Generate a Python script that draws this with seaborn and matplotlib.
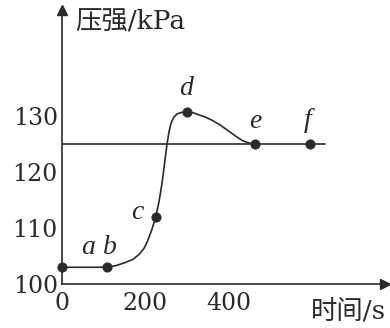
import matplotlib
matplotlib.use("Agg")
import matplotlib.pyplot as plt
import seaborn as sns
import pandas as pd

# curve (time s, pressure kPa)
curve_t = [0, 108, 130, 150, 170, 185, 197, 206, 215, 225, 233, 240, 246, 252, 257, 262, 268, 276, 288, 300,
           315, 330, 345, 362, 380, 395, 410, 423, 434, 445, 455, 463]
curve_p = [103, 103, 103.3, 103.8, 104.4, 105.3, 106.4, 107.8, 109.6, 112, 114.8, 118, 121.5, 125, 127.3, 128.8,
           129.8, 130.4, 130.7, 130.7, 130.6, 130.2, 129.8, 129.2, 128.4, 127.6, 126.8, 126.1, 125.6, 125.3, 125.1, 125]

# reference line
ref_t = [0, 630]
ref_p = [125, 125]

# labelled points
pt_labels = ["a", "b", "c", "d", "e", "f"]
pt_t = [0, 108, 225, 300, 463, 595]
pt_p = [103, 103, 112, 130.7, 125, 125]

x_ticks_major = [0, 200, 400]
x_ticks_minor = [100, 300, 500, 600]
y_ticks_major = [100, 110, 120, 130]
y_ticks_minor = [105, 115, 125]

sns.set_style("white")
plt.rcParams["font.family"] = ["DejaVu Serif", "Noto Sans CJK SC"]

fig = plt.figure(figsize=(3.9, 3.28), dpi=100)
ax = fig.add_axes([0.159, 0.134, 0.828, 0.836])

df_curve = pd.DataFrame({"t": curve_t, "p": curve_p})
df_ref = pd.DataFrame({"t": ref_t, "p": ref_p})
df_pts = pd.DataFrame({"t": pt_t, "p": pt_p, "lab": pt_labels})

ink = "#2a2a2a"
sns.lineplot(data=df_curve, x="t", y="p", ax=ax, color=ink, lw=1.2, sort=False)
sns.lineplot(data=df_ref, x="t", y="p", ax=ax, color=ink, lw=1.2)
sns.scatterplot(data=df_pts, x="t", y="p", ax=ax, color=ink, s=45, edgecolor=ink, zorder=5,
                clip_on=False)

offsets = {"a": (19, 14), "b": (2, 14), "c": (-13, 3), "d": (-1, 17), "e": (0, 16), "f": (-2, 17)}
for lab, t, p in zip(pt_labels, pt_t, pt_p):
    ax.annotate(lab, (t, p), xytext=offsets[lab], textcoords="offset points", ha="center", va="center",
                fontsize=20, style="italic", family="Liberation Serif", color=ink)

ax.set_xlim(0, 775)
ax.set_ylim(100, 149)
ax.set_xticks(x_ticks_major)
ax.set_xticks(x_ticks_minor, minor=True)
ax.set_yticks(y_ticks_major)
ax.set_yticks(y_ticks_minor, minor=True)
ax.tick_params(which="both", direction="in", length=4, width=1, color=ink,
               labelsize=17, labelcolor=ink, pad=3)
ax.tick_params(axis="x", which="major", pad=6)
ax.set_xlabel("")
ax.set_ylabel("")

for s in ["top", "right"]:
    ax.spines[s].set_visible(False)
for s in ["left", "bottom"]:
    ax.spines[s].set_color(ink)
    ax.spines[s].set_linewidth(1.2)

ax.plot(1, 0, ">", color=ink, ms=7, transform=ax.transAxes, clip_on=False)
ax.plot(0, 1, "^", color=ink, ms=7, transform=ax.transAxes, clip_on=False)

fig.text(75 / 390, 1 - 22 / 328, "压强/kPa", fontsize=19, color=ink, va="center", ha="left",
         family=["DejaVu Serif", "Noto Sans CJK SC"])
fig.text(386 / 390, 1 - 311 / 328, "时间/s", fontsize=19, color=ink, va="center", ha="right",
         family=["DejaVu Serif", "Noto Sans CJK SC"])

fig.savefig("out.png", dpi=100)
